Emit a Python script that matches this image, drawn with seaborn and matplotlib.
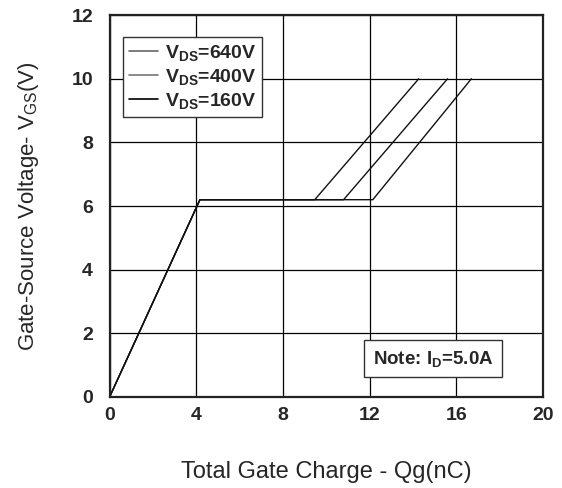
import pandas as pd
import matplotlib
matplotlib.use("Agg")
import matplotlib.pyplot as plt
import seaborn as sns

# gate charge curves
labels = ["640V", "400V", "160V"]
qg_640 = [0, 4.17, 12.15, 16.7]
vgs_640 = [0, 6.2, 6.2, 10.0]
qg_400 = [0, 4.17, 10.8, 15.6]
vgs_400 = [0, 6.2, 6.2, 10.0]
qg_160 = [0, 4.17, 9.47, 14.27]
vgs_160 = [0, 6.2, 6.2, 10.0]
x_ticks = [0, 4, 8, 12, 16, 20]
y_ticks = [0, 2, 4, 6, 8, 10, 12]

frames = []
for lab, q, v in zip(labels, [qg_640, qg_400, qg_160], [vgs_640, vgs_400, vgs_160]):
    frames.append(pd.DataFrame({"Qg": q, "Vgs": v, "vds": lab}))
df = pd.concat(frames, ignore_index=True)

sns.set_style("white")
plt.rcParams["font.family"] = ["Liberation Sans", "DejaVu Sans"]
plt.rcParams["mathtext.fontset"] = "custom"
plt.rcParams["mathtext.rm"] = "Liberation Sans"
plt.rcParams["mathtext.bf"] = "Liberation Sans:bold"
plt.rcParams["mathtext.it"] = "Liberation Sans:italic"

fig = plt.figure(figsize=(5.62, 4.88), dpi=100)
ax = fig.add_axes([0.195, 0.1865, 0.771, 0.7825])

palette = {"640V": "#666666", "400V": "#777777", "160V": "#000000"}
sns.lineplot(data=df, x="Qg", y="Vgs", hue="vds", hue_order=labels, palette=palette,
             units="vds", estimator=None, sort=False, linewidth=1.0, ax=ax, legend=False)
for line in ax.lines:
    line.set_color("#111111")

ax.set_xlim(0, 20)
ax.set_ylim(0, 12)
ax.set_xticks(x_ticks)
ax.set_yticks(y_ticks)
ax.set_xticklabels([str(t) for t in x_ticks], fontsize=14, fontweight="bold")
ax.set_yticklabels([str(t) for t in y_ticks], fontsize=14, fontweight="bold")
ax.tick_params(axis="x", length=0, pad=7)
ax.tick_params(axis="y", length=0, pad=12)
ax.grid(True, color="black", linewidth=0.9)
ax.set_axisbelow(True)
for sp in ax.spines.values():
    sp.set_color("#222222")
    sp.set_linewidth(1.6)

ax.set_xlabel("Total Gate Charge - Qg(nC)", fontsize=17, labelpad=27)
ax.set_ylabel(r"Gate-Source Voltage- V$_{\mathrm{GS}}$(V)", fontsize=16, labelpad=22)

handles = [plt.Line2D([], [], color=palette[l], linewidth=1.2) for l in labels]
leg = ax.legend(handles, [r"V$_{\mathbf{DS}}$=" + l for l in labels],
                loc="upper left", bbox_to_anchor=(0.031, 0.942), borderaxespad=0,
                frameon=True, fancybox=False,
                framealpha=1, edgecolor="#333333", handlelength=1.5, borderpad=0.3,
                labelspacing=0.2, handletextpad=0.35,
                prop={"weight": "bold", "size": 14})
leg.get_frame().set_linewidth(1.0)

ax.text(0.607, 0.1, r"Note: I$_{\mathbf{D}}$=5.0A", transform=ax.transAxes,
        fontsize=13.5, fontweight="bold", va="center", ha="left",
        bbox=dict(boxstyle="square,pad=0.45", facecolor="white", edgecolor="#333333", linewidth=1.0))

fig.savefig("out.png", dpi=100)
